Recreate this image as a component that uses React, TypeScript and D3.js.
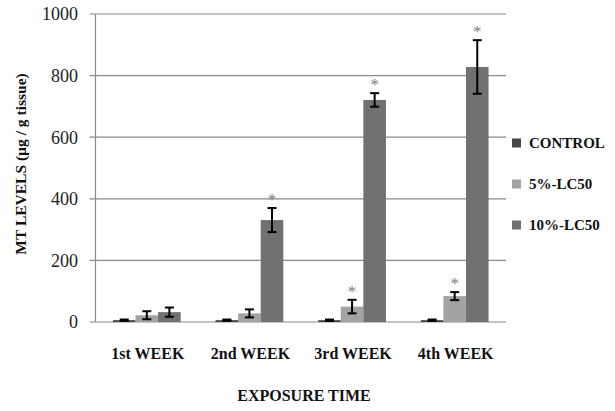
import React from 'react';
import * as d3 from 'd3';

const weeks = ['1st WEEK', '2nd WEEK', '3rd WEEK', '4th WEEK'];
const seriesNames = ['CONTROL', '5%-LC50', '10%-LC50'];
const colors = ['#474747', '#a3a3a3', '#717171'];

const control = [6, 6, 6, 6];
const controlErr = [2, 2, 2, 2];
const lc5 = [22, 28, 50, 84];
const lc5Err = [13, 13, 22, 13];
const lc10 = [32, 331, 721, 828];
const lc10Err = [15, 39, 22, 87];
// significance markers per series
const lc5Star = [false, false, true, true];
const lc10Star = [false, true, true, true];

const yTicks = [0, 200, 400, 600, 800, 1000];

const W = 615;
const H = 411;
const left = 95.5;
const right = 506;
const top = 14;
const bottom = 322;
const serif = '"Liberation Serif", "DejaVu Serif", "Times New Roman", serif';

const App = () => {
  const values = [control, lc5, lc10];
  const errs = [controlErr, lc5Err, lc10Err];
  const stars = [[false, false, false, false], lc5Star, lc10Star];

  const x0 = d3.scaleBand().domain(weeks).range([left, right]).paddingInner(0.34).paddingOuter(0.17);
  const x1 = d3.scaleBand().domain(seriesNames).range([0, x0.bandwidth()]);
  const y = d3.scaleLinear().domain([0, 1000]).range([bottom, top]);

  return (
    <svg width={W} height={H} style={{ position: 'absolute', left: 0, top: 0, background: '#fff', fontFamily: serif }}>
      {yTicks.map((t) => (
        <g key={t}>
          <line x1={left - 6} x2={right} y1={y(t)} y2={y(t)} stroke="#8a8a8a" strokeWidth={1.2} />
          <text x={78} y={y(t)} dy="0.35em" textAnchor="end" fontSize={18} fill="#222">{t}</text>
        </g>
      ))}
      <line x1={left} x2={left} y1={top} y2={bottom} stroke="#8a8a8a" strokeWidth={1.2} />

      {seriesNames.map((s, si) => (
        <g key={s}>
          {weeks.map((w, wi) => {
            const v = values[si][wi];
            const e = errs[si][wi];
            const bx = (x0(w) || 0) + (x1(s) || 0);
            const cx = bx + x1.bandwidth() / 2;
            return (
              <g key={w}>
                <rect x={bx} y={y(v)} width={x1.bandwidth()} height={bottom - y(v)} fill={colors[si]} />
                <line x1={cx} x2={cx} y1={y(v + e)} y2={y(Math.max(0, v - e))} stroke="#000" strokeWidth={2} />
                <line x1={cx - 4.5} x2={cx + 4.5} y1={y(v + e)} y2={y(v + e)} stroke="#000" strokeWidth={2} />
                <line x1={cx - 4.5} x2={cx + 4.5} y1={y(Math.max(0, v - e))} y2={y(Math.max(0, v - e))} stroke="#000" strokeWidth={2} />
                {stars[si][wi] && (
                  <text x={cx} y={y(v + e) - 3} textAnchor="middle" fontSize={17} fill="#808080">*</text>
                )}
              </g>
            );
          })}
        </g>
      ))}

      {weeks.map((w) => (
        <text key={w} x={(x0(w) || 0) + x0.bandwidth() / 2 + 1} y={353} dy="0.35em" textAnchor="middle"
          fontSize={16} fontWeight="bold" fill="#111">{w}</text>
      ))}

      <text x={304} y={395} dy="0.35em" textAnchor="middle" fontSize={16} fontWeight="bold" fill="#111">EXPOSURE TIME</text>
      <text transform="translate(21,164) rotate(-90)" dy="0.35em" textAnchor="middle" fontSize={15.5}
        fontWeight="bold" fill="#111">MT LEVELS (µg / g tissue)</text>

      {seriesNames.map((s, i) => (
        <g key={s} transform={`translate(512,${143 + i * 41})`}>
          <rect x={0} y={-4.5} width={9} height={9} fill={colors[i]} />
          <text x={17} y={0} dy="0.35em" fontSize={15} fontWeight="bold" fill="#111">{s}</text>
        </g>
      ))}
    </svg>
  );
};

export default App;
